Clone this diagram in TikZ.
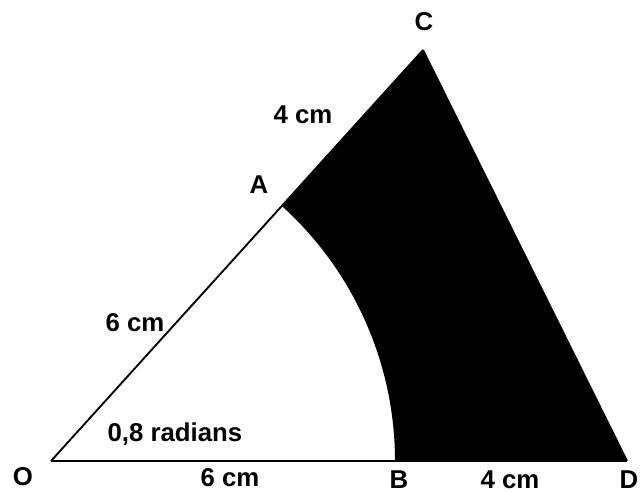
\documentclass[tikz,border=0pt]{standalone}
\usepackage{fontspec}
\setmainfont{Liberation Sans}
\usepackage{tikz}
\usetikzlibrary{calc}

\begin{document}
\begin{tikzpicture}[
  x=0.3mm, y=0.3mm,
  edge/.style={draw, line width=1.6pt, line join=miter},
  region/.style={fill=black},
  plabel/.style={font=\fontsize{22}{26}\selectfont\bfseries, inner sep=0pt},
]
\useasboundingbox (0,0) rectangle (644,493);

% Points of the figure
\coordinate (O) at (51, 32);
\coordinate (B) at (395, 32);
\coordinate (D) at (627, 32);
\coordinate (A) at ($(O) + (47.85:10.32cm)$);
\coordinate (C) at ($(O) + (47.85:16.63cm)$);

% Shaded part between arc AB and triangle
\path[region] (A) -- (C) -- (D) -- (B)
   arc[start angle=0, end angle=47.85, radius=10.32cm] -- cycle;

% Triangle OCD
\draw[edge] (O) -- (C);
\draw[edge] (C) -- (D);
\draw[edge] (D) -- (O);

% Labels
\node[plabel] (lO) at (23, 16)   {O};
\node[plabel] (lB) at (399, 13)  {B};
\node[plabel] (lD) at (629, 13)  {D};
\node[plabel] (lA) at (259, 308) {A};
\node[plabel] (lC) at (424, 471) {C};
\node[plabel] (lOB) at (230, 15)  {6 cm};
\node[plabel] (lBD) at (510, 13)  {4 cm};
\node[plabel] (lOA) at (135, 170) {6 cm};
\node[plabel] (lAC) at (303, 378) {4 cm};
\node[plabel] (lang) at (175, 59) {0,8 radians};

\end{tikzpicture}
\end{document}
